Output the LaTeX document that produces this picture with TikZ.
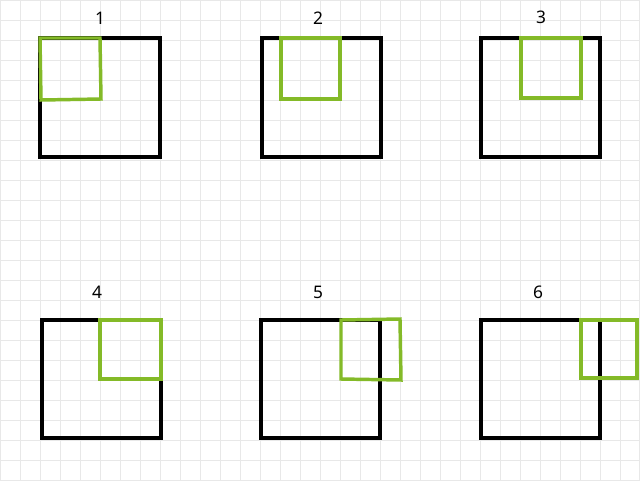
\documentclass[tikz,border=0pt]{standalone}
\usepackage{fontspec}
\setmainfont{Noto Sans}
\definecolor{gridc}{RGB}{232,232,232}
\definecolor{greenc}{RGB}{132,186,40}
\tikzset{
  outer/.style={draw=black,line width=2.6pt},
  inner/.style={draw=greenc,line width=2.6pt},
  lbl/.style={font=\fontsize{13}{15}\selectfont,inner sep=0pt}
}
\begin{document}
\begin{tikzpicture}[x=0.75pt,y=-0.75pt]
\fill[white] (0,0) rectangle (640,480);
\useasboundingbox (0,0) rectangle (640,480);
\draw[gridc,line width=0.75pt] (0,0) grid[step=15pt] (640,480);
% panel 1
\draw[outer] (40,38) rectangle (160,157);
\draw[inner] (40,38) -- (100,38) -- (101,99) -- (41,100) -- cycle;
\node[lbl] (l1) at (100,18) {1};
% panel 2
\draw[outer] (262,38) rectangle (381,157);
\draw[inner] (281,38) rectangle (340,99);
\node[lbl] (l2) at (318,18) {2};
% panel 3
\draw[outer] (481,38) rectangle (600,157);
\draw[inner] (521,38) rectangle (581,98);
\node[lbl] (l3) at (541,17) {3};
% panel 4
\draw[outer] (42,320) rectangle (161,438);
\draw[inner] (100,320) rectangle (161,379);
\node[lbl] (l4) at (97,292) {4};
% panel 5
\draw[outer] (261,320) rectangle (380,438);
\draw[inner] (341,320) -- (400,319) -- (401,380) -- (341,379) -- cycle;
\node[lbl] (l5) at (318,292) {5};
% panel 6
\draw[outer] (481,320) rectangle (600,438);
\draw[inner] (581,320) rectangle (637,378);
\node[lbl] (l6) at (538,292) {6};
\end{tikzpicture}
\end{document}
